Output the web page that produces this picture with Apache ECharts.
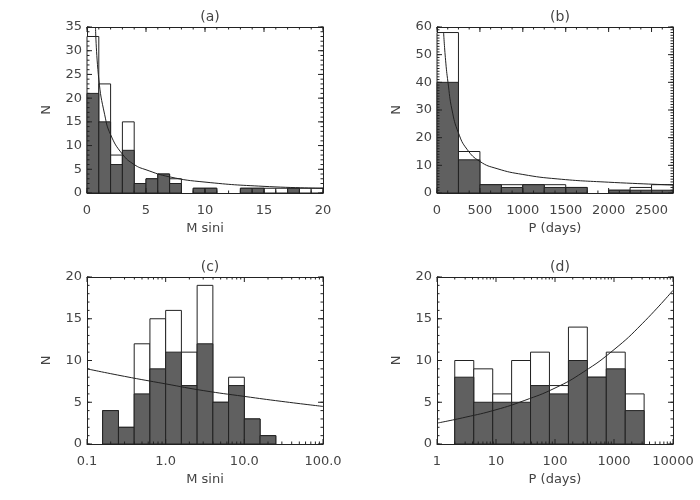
<!DOCTYPE html>
<html>
<head>
<meta charset="utf-8">
<script src="https://cdn.jsdelivr.net/npm/echarts@6/dist/echarts.min.js"></script>
<style>
  html, body { margin: 0; padding: 0; background: #fff; }
  #main_ref { width: 700px; height: 500px; }
</style>
</head>
<body>
<div id="main_ref"></div>
<script>
// (a) M sini, linear bins
const massEdges = [0, 1, 2, 3, 4, 5, 6, 7, 8, 9, 10, 11, 12, 13, 14, 15, 16, 17, 18, 19, 20]
const massAll = [33, 23, 8, 15, 2, 3, 4, 3, 0, 1, 1, 0, 0, 1, 1, 1, 1, 1, 1, 1]
const massSub = [21, 15, 6, 9, 2, 3, 4, 2, 0, 1, 1, 0, 0, 1, 1, 0, 0, 1, 0, 0]
const massFitX = [0.72, 1, 1.5, 2, 3, 4, 5, 7, 10, 15, 20]
const massFitY = [35, 24, 16.5, 12.3, 8.2, 6.0, 4.9, 3.4, 2.3, 1.4, 1.0]

// (b) P (days), linear bins
const periodEdges = [0, 250, 500, 750, 1000, 1250, 1500, 1750, 2000, 2250, 2500, 2750]
const periodAll = [58, 15, 3, 3, 3, 3, 2, 0, 1, 2, 3]
const periodSub = [40, 12, 3, 2, 3, 2, 2, 0, 1, 1, 1]
const periodFitX = [77, 100, 128, 175, 250, 350, 500, 700, 1000, 1400, 2000, 2750]
const periodFitY = [58, 48, 40, 30, 21.7, 15.8, 11.4, 8.8, 6.7, 5.1, 3.9, 2.9]

// (c) M sini, log bins
const logMassEdges = [0.158, 0.251, 0.398, 0.631, 1.0, 1.585, 2.512, 3.981, 6.31, 10.0, 15.85, 25.12]
const logMassAll = [4, 2, 12, 15, 16, 11, 19, 5, 8, 3, 1]
const logMassSub = [4, 2, 6, 9, 11, 7, 12, 5, 7, 3, 1]
const logMassFitX = [0.1, 0.3, 1, 3, 10, 30, 100]
const logMassFitY = [9.0, 8.1, 7.2, 6.4, 5.7, 5.1, 4.5]

// (d) P (days), log bins
const logPerEdges = [2, 4.2, 8.8, 18.4, 38.5, 80.5, 169, 353, 740, 1550, 3240]
const logPerAll = [10, 9, 6, 10, 11, 7, 14, 8, 11, 6]
const logPerSub = [8, 5, 5, 5, 7, 6, 10, 8, 9, 4]
const logPerFitX = [1, 3, 10, 30, 100, 300, 1000, 3000, 10000]
const logPerFitY = [2.5, 3.2, 4.1, 5.2, 6.7, 8.6, 11.3, 14.4, 18.4]

const textColor = '#444'
const lineColor = '#222'
const barColor = '#606060'
const fontFamily = 'DejaVu Sans'

const chartInstance = echarts.init(document.getElementById('main_ref'))

function bins (edges, counts) {
  return counts.map((n, i) => [edges[i], edges[i + 1], n])
}

function pairs (xs, ys) {
  return xs.map((x, i) => [x, ys[i]])
}

function histItem (fill) {
  return function (params, api) {
    const n = api.value(2)
    if (!n) return
    const p0 = api.coord([api.value(0), n])
    const p1 = api.coord([api.value(1), 0])
    return {
      type: 'rect',
      shape: { x: p0[0], y: p0[1], width: p1[0] - p0[0], height: p1[1] - p0[1] },
      style: { fill: fill, stroke: lineColor, lineWidth: 1 }
    }
  }
}

// tick positions (IDL style box: ticks on all four sides, pointing in)
function steps (lo, hi, step) {
  const out = []
  for (let v = lo; v <= hi + step * 1e-6; v += step) out.push(+v.toPrecision(6))
  return out
}
function logSteps (lo, hi, minor) {
  const out = []
  for (let d = lo; d <= hi * 1.0001; d *= 10) {
    if (!minor) out.push(+d.toPrecision(6))
    else if (d < hi * 0.99) for (let k = 2; k <= 9; k++) out.push(+(k * d).toPrecision(6))
  }
  return out
}

function line (x1, y1, x2, y2) {
  return { type: 'line', shape: { x1: x1, y1: y1, x2: x2, y2: y2 }, style: { stroke: lineColor, lineWidth: 1 } }
}

// vertical ticks on bottom and top edge
function xTickItem (yMin, yMax, len) {
  return function (params, api) {
    const v = api.value(0)
    const pb = api.coord([v, yMin])
    const pt = api.coord([v, yMax])
    return { type: 'group', children: [line(pb[0], pb[1], pb[0], pb[1] - len), line(pt[0], pt[1], pt[0], pt[1] + len)] }
  }
}
// horizontal ticks on left and right edge
function yTickItem (xMin, xMax, len) {
  return function (params, api) {
    const v = api.value(1)
    const pl = api.coord([xMin, v])
    const pr = api.coord([xMax, v])
    return { type: 'group', children: [line(pl[0], pl[1], pl[0] + len, pl[1]), line(pr[0], pr[1], pr[0] - len, pr[1])] }
  }
}

const labelStyle = { show: true, color: textColor, fontSize: 13, fontFamily: fontFamily }
const nameStyle = { color: textColor, fontSize: 13, fontFamily: fontFamily }

function makeAxis (extra) {
  return Object.assign({
    axisLine: { show: true, onZero: false, lineStyle: { color: lineColor, width: 1 } },
    axisTick: { show: false },
    minorTick: { show: false },
    splitLine: { show: false },
    minorSplitLine: { show: false },
    axisLabel: { show: false }
  }, extra)
}

function xPair (gridIndex, base, label, name) {
  return [
    makeAxis(Object.assign({ gridIndex: gridIndex, position: 'bottom', axisLabel: Object.assign({ margin: 11 }, labelStyle, label), name: name, nameLocation: 'middle', nameGap: 29, nameTextStyle: nameStyle }, base)),
    makeAxis(Object.assign({ gridIndex: gridIndex, position: 'top' }, base))
  ]
}

function yPair (gridIndex, base) {
  return [
    makeAxis(Object.assign({ gridIndex: gridIndex, position: 'left', axisLabel: Object.assign({ margin: 5, formatter: v => String(v) }, labelStyle), name: 'N', nameLocation: 'middle', nameRotate: 90, nameGap: 34, nameTextStyle: nameStyle }, base)),
    makeAxis(Object.assign({ gridIndex: gridIndex, position: 'right' }, base))
  ]
}

const xAxes = [].concat(
  xPair(0, { type: 'value', min: 0, max: 20, interval: 5 }, { formatter: v => String(v) }, 'M sini'),
  xPair(1, { type: 'value', min: 0, max: 2750, interval: 500 }, { showMaxLabel: false, formatter: v => (v > 2600 ? '' : String(v)) }, 'P (days)'),
  xPair(2, { type: 'log', logBase: 10, min: 0.1, max: 100 }, { formatter: v => Number(v).toFixed(1) }, 'M sini'),
  xPair(3, { type: 'log', logBase: 10, min: 1, max: 10000 }, { formatter: v => String(Math.round(v)) }, 'P (days)')
)

const yAxes = [].concat(
  yPair(0, { type: 'value', min: 0, max: 35, interval: 5 }),
  yPair(1, { type: 'value', min: 0, max: 60, interval: 10 }),
  yPair(2, { type: 'value', min: 0, max: 20, interval: 5 }),
  yPair(3, { type: 'value', min: 0, max: 20, interval: 5 })
)

function panelSeries (k, edges, all, sub, fitX, fitY) {
  return [
    {
      type: 'custom',
      xAxisIndex: 2 * k,
      yAxisIndex: 2 * k,
      renderItem: histItem('#fff'),
      encode: { x: [0, 1], y: 2 },
      data: bins(edges, all),
      z: 2
    },
    {
      type: 'custom',
      xAxisIndex: 2 * k,
      yAxisIndex: 2 * k,
      renderItem: histItem(barColor),
      encode: { x: [0, 1], y: 2 },
      data: bins(edges, sub),
      z: 3
    },
    {
      type: 'line',
      xAxisIndex: 2 * k,
      yAxisIndex: 2 * k,
      data: pairs(fitX, fitY),
      smooth: true,
      showSymbol: false,
      clip: true,
      lineStyle: { color: lineColor, width: 1 },
      z: 4
    }
  ]
}

function tickSeries (k, xMin, xMax, yMax, xMajor, xMinor, yMajor, yMinor) {
  const common = { type: 'custom', xAxisIndex: 2 * k, yAxisIndex: 2 * k, silent: true, z: 5 }
  return [
    Object.assign({ renderItem: xTickItem(0, yMax, 5), encode: { x: 0, y: 1 }, data: xMajor.map(v => [v, 0]) }, common),
    Object.assign({ renderItem: xTickItem(0, yMax, 2.5), encode: { x: 0, y: 1 }, data: xMinor.map(v => [v, 0]) }, common),
    Object.assign({ renderItem: yTickItem(xMin, xMax, 5), encode: { x: 0, y: 1 }, data: yMajor.map(v => [xMin, v]) }, common),
    Object.assign({ renderItem: yTickItem(xMin, xMax, 2.5), encode: { x: 0, y: 1 }, data: yMinor.map(v => [xMin, v]) }, common)
  ]
}

const titles = [
  { text: '(a)', left: 205, top: 5 },
  { text: '(b)', left: 555, top: 5 },
  { text: '(c)', left: 205, top: 255 },
  { text: '(d)', left: 555, top: 255 }
].map(t => Object.assign({ textAlign: 'center', textStyle: { color: textColor, fontSize: 14, fontWeight: 'normal', fontFamily: fontFamily } }, t))

const initOption = {
  backgroundColor: '#fff',
  animation: false,
  title: titles,
  grid: [
    { left: 87, top: 27, width: 236, height: 166 },
    { left: 437, top: 27, width: 236, height: 166 },
    { left: 87, top: 277, width: 236, height: 167 },
    { left: 437, top: 277, width: 236, height: 167 }
  ],
  xAxis: xAxes,
  yAxis: yAxes,
  series: [].concat(
    panelSeries(0, massEdges, massAll, massSub, massFitX, massFitY),
    panelSeries(1, periodEdges, periodAll, periodSub, periodFitX, periodFitY),
    panelSeries(2, logMassEdges, logMassAll, logMassSub, logMassFitX, logMassFitY),
    panelSeries(3, logPerEdges, logPerAll, logPerSub, logPerFitX, logPerFitY),
    tickSeries(0, 0, 20, 35, steps(0, 20, 5), steps(0, 20, 1), steps(0, 35, 5), steps(0, 35, 1)),
    tickSeries(1, 0, 2750, 60, steps(0, 2500, 500), steps(0, 2750, 125), steps(0, 60, 10), steps(0, 60, 1)),
    tickSeries(2, 0.1, 100, 20, logSteps(0.1, 100, false), logSteps(0.1, 100, true), steps(0, 20, 5), steps(0, 20, 1)),
    tickSeries(3, 1, 10000, 20, logSteps(1, 10000, false), logSteps(1, 10000, true), steps(0, 20, 5), steps(0, 20, 1))
  )
}
chartInstance.setOption(initOption)
</script>
</body>
</html>
